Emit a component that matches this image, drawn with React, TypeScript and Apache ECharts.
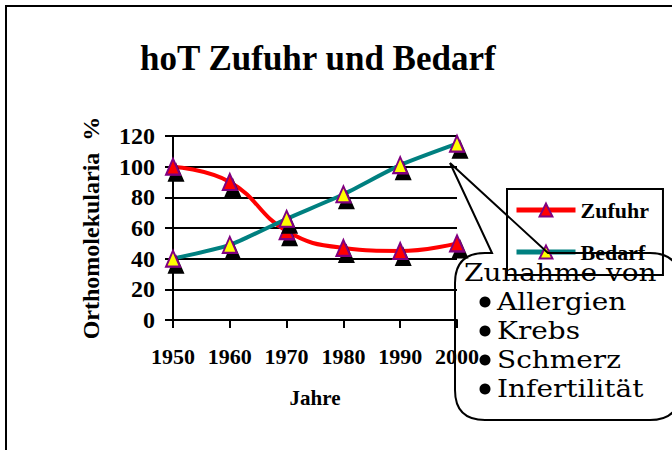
import React, { useEffect, useRef } from "react";
import * as echarts from "echarts";

const years = ["1950", "1960", "1970", "1980", "1990", "2000"];
const zufuhr = [100, 90, 58, 47, 45, 50];
const bedarf = [40, 49, 66, 82, 101, 115];
const calloutTitle = "Zunahme von";
const calloutItems = ["Allergien", "Krebs", "Schmerz", "Infertilität"];

const calloutPath =
  "M 492 253 L 450 163 L 548 253 L 650 253 Q 680 253 680 283 L 680 390 Q 680 420 650 420 L 485 420 Q 455 420 455 390 L 455 283 Q 455 253 485 253 Z";
echarts.graphic.registerShape("callout", echarts.graphic.extendPath(calloutPath, {}));

const SERIF = "'Liberation Serif', 'Times New Roman', serif";
const CALLOUT_FONT = "'DejaVu Serif', serif";

export default function App() {
  const ref = useRef<HTMLDivElement>(null);
  useEffect(() => {
    if (!ref.current) return;
    const chart = echarts.init(ref.current, null, { renderer: "svg" });
    const bulletY = [302, 331, 360, 389];
    const calloutText = [
      "{t|" + calloutTitle + "}",
      ...calloutItems.map((t) => "{i|" + t + "}"),
    ].join("\n");
    const graphics: any[] = [
      {
        type: "rect",
        shape: { x: 6, y: 6, width: 720, height: 500 },
        style: { fill: "none", stroke: "#000", lineWidth: 2 },
        silent: true,
      },
      {
        type: "callout",
        x: 0,
        y: 0,
        scaleX: 1,
        scaleY: 1,
        z: 100,
        style: { fill: "none", stroke: "#000", lineWidth: 2 },
        silent: true,
      },
      {
        type: "text",
        x: 464,
        y: 258,
        scaleX: 1.14,
        scaleY: 1,
        z: 100,
        style: {
          text: calloutText,
          fontFamily: CALLOUT_FONT,
          fontSize: 24.5,
          lineHeight: 29,
          fill: "#000",
          textAlign: "left",
          textVerticalAlign: "top",
          rich: {
            t: { fontFamily: CALLOUT_FONT, fontSize: 24.5, lineHeight: 29, fill: "#000" },
            i: {
              fontFamily: CALLOUT_FONT,
              fontSize: 24.5,
              lineHeight: 29,
              fill: "#000",
              padding: [0, 0, 0, 29],
            },
          },
        },
      },
    ];
    calloutItems.forEach((_t, i) => {
      graphics.push({
        type: "circle",
        shape: { cx: 485, cy: bulletY[i], r: 5.5 },
        style: { fill: "#000" },
        z: 100,
      });
    });

    const markerBase = {
      borderColor: "#800080",
      borderWidth: 2,
      shadowColor: "#000",
      shadowBlur: 0,
      shadowOffsetX: 3,
      shadowOffsetY: 6,
    };

    chart.setOption({
      animation: false,
      backgroundColor: "#fff",
      title: {
        text: "hoT Zufuhr und Bedarf",
        left: 140,
        top: 41,
        padding: 0,
        textStyle: { fontFamily: SERIF, fontSize: 35, fontWeight: "bold", color: "#000" },
      },
      legend: {
        data: ["Zufuhr", "Bedarf"],
        orient: "vertical",
        left: 507,
        top: 189,
        padding: [10, 14, 12, 7],
        itemWidth: 59,
        itemHeight: 16,
        itemGap: 20,
        borderColor: "#000",
        borderWidth: 2,
        backgroundColor: "#fff",
        itemStyle: { shadowColor: "transparent", shadowOffsetX: 0, shadowOffsetY: 0 },
        lineStyle: { width: 5 },
        textStyle: { fontFamily: SERIF, fontSize: 22, fontWeight: "bold", color: "#000" },
      },
      grid: { left: 173, right: 215, top: 136, bottom: 130, containLabel: false },
      xAxis: {
        type: "category",
        data: years,
        boundaryGap: false,
        axisLine: { show: true, lineStyle: { color: "#000", width: 2 } },
        axisTick: { show: true, length: 8, interval: 0, lineStyle: { color: "#000", width: 2 } },
        axisLabel: {
          interval: 0,
          fontFamily: SERIF,
          fontSize: 22,
          fontWeight: "bold",
          color: "#000",
          margin: 25,
        },
        splitLine: { show: false },
        name: "Jahre",
        nameLocation: "middle",
        nameGap: 67,
        nameTextStyle: { fontFamily: SERIF, fontSize: 21, fontWeight: "bold", color: "#000" },
      },
      yAxis: {
        type: "value",
        min: 0,
        max: 120,
        interval: 20,
        axisLine: { show: true, lineStyle: { color: "#000", width: 2 } },
        axisTick: { show: true, length: 8, lineStyle: { color: "#000", width: 2 } },
        axisLabel: {
          fontFamily: SERIF,
          fontSize: 24,
          fontWeight: "bold",
          color: "#000",
          margin: 18,
        },
        splitLine: { show: true, lineStyle: { color: "#000", width: 2 } },
        name: "Orthomolekularia  %",
        nameLocation: "middle",
        nameRotate: 90,
        nameGap: 70,
        nameTextStyle: { fontFamily: SERIF, fontSize: 24, fontWeight: "bold", color: "#000" },
      },
      series: [
        {
          name: "Zufuhr",
          type: "line",
          data: zufuhr,
          smooth: 0.45,
          symbol: "triangle",
          symbolSize: [14, 16],
          lineStyle: { color: "#ff0000", width: 4 },
          itemStyle: { color: "#ff0000", ...markerBase },
          z: 3,
        },
        {
          name: "Bedarf",
          type: "line",
          data: bedarf,
          smooth: 0.2,
          symbol: "triangle",
          symbolSize: [14, 16],
          lineStyle: { color: "#008080", width: 4 },
          itemStyle: { color: "#ffff00", ...markerBase },
          z: 4,
        },
      ],
      graphic: graphics,
    });
    return () => chart.dispose();
  }, []);
  return (
    <div
      ref={ref}
      style={{ position: "fixed", left: 0, top: 0, width: 672, height: 450, background: "#fff" }}
    />
  );
}
